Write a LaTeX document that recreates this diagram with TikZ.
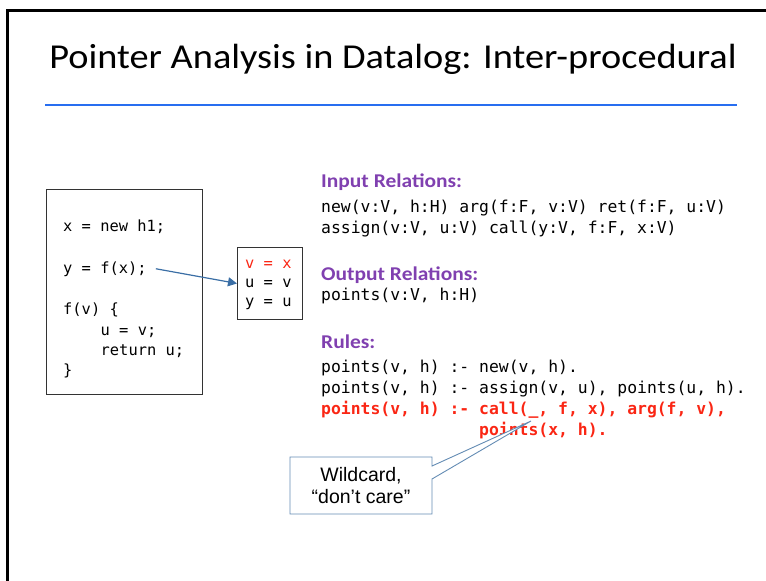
\documentclass[tikz,border=0pt]{standalone}
\usepackage{fontspec}
\setmainfont{Carlito}
\newfontfamily\codefont{DejaVu Sans Mono}
\newfontfamily\arialfont{Liberation Sans}
\usetikzlibrary{arrows.meta,calc}
\definecolor{hdpurple}{RGB}{128,64,176}
\definecolor{codered}{RGB}{250,38,20}
\definecolor{titlerule}{RGB}{40,110,240}
\definecolor{arrowblue}{RGB}{58,110,165}
\definecolor{calloutblue}{RGB}{100,140,180}
\tikzset{
  codeline/.style={anchor=base west, inner sep=0pt, font=\codefont\fontsize{15.4}{20}\selectfont},
  relline/.style={anchor=base west, inner sep=0pt, font=\codefont\fontsize{16.4}{21}\selectfont},
  header/.style={anchor=base west, inner sep=0pt, text=hdpurple, font=\bfseries\fontsize{19.5}{23}\selectfont},
  boxframe/.style={draw=black!80, line width=0.9pt, inner sep=0pt},
}
\newcommand{\hstretch}[1]{\scalebox{1.1}[1]{#1}}
\begin{document}
\begin{tikzpicture}[x=1pt,y=-1pt]
\useasboundingbox (0,0) rectangle (766,581);
% slide frame
\draw[line width=3pt] (7.5,581) -- (7.5,10) -- (766,10);
% title
\node[anchor=base, inner sep=0pt, font=\fontsize{35}{40}\selectfont] (title) at (393,68) {\scalebox{1.095}[1]{Pointer Analysis in Datalog: Inter-procedural}};
\draw[titlerule, line width=2pt] (45,104.5) -- (737,104.5);

% code box
\node[boxframe, anchor=north west, minimum width=156pt, minimum height=205pt] (codebox) at (46,189) {};
\node[codeline] (l1) at (63,231) {x = new h1;};
\node[codeline] (ycall) at (63,273) {y = f(x);};
\node[codeline] (l3) at (63,314) {f(v) \{};
\node[codeline] (l4) at (100.5,335) {u = v;};
\node[codeline] (l5) at (100.5,355) {return u;};
\node[codeline] (l6) at (63,375) {\}};

% small box
\node[boxframe, anchor=north west, minimum width=65pt, minimum height=72pt] (smallbox) at (237,247) {};
\node[codeline, text=codered] (s1) at (245,268) {v = x};
\node[codeline] (s2) at (245,287) {u = v};
\node[codeline] (s3) at (245,306) {y = u};

\draw[arrowblue, line width=1.2pt, -{Triangle[length=9pt,width=9pt]}] ([xshift=9pt]ycall.east) -- (smallbox.west);

% relations
\node[header] (inh) at (321,187) {\hstretch{Input Relations:}};
\node[relline] (in1) at (321,212) {new(v:V, h:H) arg(f:F, v:V) ret(f:F, u:V)};
\node[relline] (in2) at (321,233) {assign(v:V, u:V) call(y:V, f:F, x:V)};
\node[header] (outh) at (321,280) {\hstretch{Output Relations:}};
\node[relline] (out1) at (321,300) {points(v:V, h:H)};
\node[header] (rulesh) at (321,348) {\hstretch{Rules:}};
\node[relline] (r1) at (321,372) {points(v, h) :- new(v, h).};
\node[relline] (r2) at (321,393) {points(v, h) :- assign(v, u), points(u, h).};
\node[relline, text=codered, font=\codefont\bfseries\fontsize{16.4}{21}\selectfont] (r3) at (321,414) {points(v, h) :- call(\_, f, x), arg(f, v),};
\node[relline, text=codered, font=\codefont\bfseries\fontsize{16.4}{21}\selectfont] (r4) at (479,435) {points(x, h).};

% callout
\coordinate (cnw) at (290,457);
\coordinate (cse) at (432,514);
\coordinate (wtip) at (531,421);
\filldraw[fill=white, draw=calloutblue, line width=0.9pt]
  (cnw) -- (cnw -| cse) -- ($(cnw -| cse)+(0,9)$) -- (wtip) -- ($(cnw -| cse)+(0,22)$)
  -- (cse) -- (cse -| cnw) -- cycle;
\node[align=center, inner sep=0pt, font=\arialfont\fontsize{19.5}{22}\selectfont] (callout) at ($(cnw)!0.5!(cse)$) {Wildcard,\\“don’t care”};
\end{tikzpicture}
\end{document}
